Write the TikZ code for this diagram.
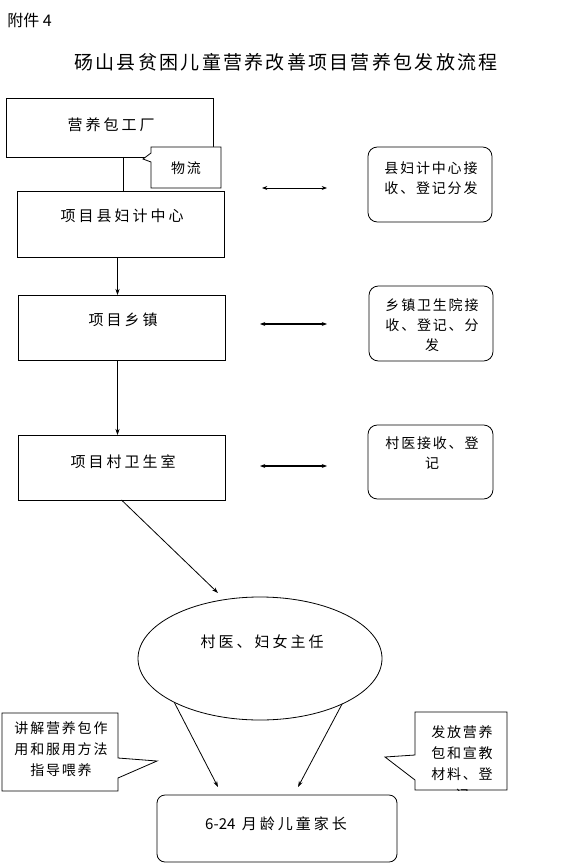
\documentclass[tikz,border=0pt]{standalone}
\usepackage{fontspec}
\setmainfont{Noto Sans CJK SC}
\newfontfamily\titlefont[LetterSpace=12]{Noto Sans CJK SC}
\newfontfamily\boxfont[LetterSpace=20]{Noto Sans CJK SC}
\newfontfamily\smallfont[LetterSpace=13]{Noto Sans CJK SC}
\newfontfamily\plainfont{Noto Sans CJK SC}
\usetikzlibrary{arrows.meta,shapes.geometric}
\begin{document}
\begin{tikzpicture}[x=0.75pt,y=-0.75pt,line width=0.6pt,
  sqbox/.style={draw,rectangle,inner sep=0pt,outer sep=0pt},
  rbox/.style={draw,rectangle,rounded corners=7pt,inner sep=0pt,outer sep=0pt},
  bigtxt/.style={inner sep=0pt,font=\fontsize{11.25pt}{14pt}\boxfont},
  smalltxt/.style={inner sep=0pt,align=center,font=\fontsize{10.5pt}{15pt}\smallfont},
  arr/.style={-{Stealth[length=4.5pt,width=3pt]}},
  darr/.style={{Stealth[length=4pt,width=3pt]}-{Stealth[length=4pt,width=3pt]}}]
\useasboundingbox (0,0) rectangle (563,863);

% header
\node[anchor=west,inner sep=0pt,font=\fontsize{12pt}{14pt}\selectfont] (att) at (7,20) {附件 4};
\node[inner sep=0pt,font=\fontsize{14.25pt}{16pt}\titlefont] (title) at (286,62) {砀山县贫困儿童营养改善项目营养包发放流程};

% left column boxes
\node[sqbox,minimum width=155.25pt,minimum height=44.25pt] (factory) at (109.5,127.5) {};
\node[bigtxt] (factoryt) at (111,125) {营养包工厂};
\node[sqbox,minimum width=155.25pt,minimum height=49.5pt] (county) at (120.5,224) {};
\node[bigtxt] (countyt) at (122,216) {项目县妇计中心};
\node[sqbox,minimum width=155.25pt,minimum height=48.75pt] (town) at (121.5,327.5) {};
\node[bigtxt] (townt) at (123,320) {项目乡镇};
\node[sqbox,minimum width=155.25pt,minimum height=48.75pt] (village) at (121.5,467.5) {};
\node[bigtxt] (villaget) at (123,462) {项目村卫生室};

% logistics callout
\draw[fill=white] (151,147) -- (221,147) -- (221,188) -- (151,188) -- (151,162) -- (143,159) -- (151,153) -- cycle;
\node[inner sep=0pt,font=\fontsize{10.5pt}{12pt}\smallfont] (wuliu) at (186,168) {物流};

% vertical connectors
\coordinate (xa) at (123,0);
\coordinate (xb) at (117.5,0);
\draw (factory.south -| xa) -- (county.north -| xa);
\draw[arr] (county.south -| xb) -- (town.north -| xb);
\draw[arr] (town.south -| xb) -- (village.north -| xb);

% ellipse
\node[draw,ellipse,minimum width=183pt,minimum height=92.25pt,inner sep=0pt,outer sep=0pt] (ell) at (260,658.5) {};
\node[bigtxt] (ellt) at (262,642) {村医、妇女主任};
\coordinate (t1) at (218,593);
\draw[arr] (village.south) -- (t1);

% bottom box
\node[draw,rectangle,rounded corners=6pt,minimum width=180pt,minimum height=50.25pt,inner sep=0pt,outer sep=0pt] (parent) at (277,828.5) {};
\node[inner sep=0pt,font=\fontsize{11.25pt}{14pt}\boxfont] (parentt) at (276,824) {{\plainfont 6-24} 月龄儿童家长};
\coordinate (t2) at (218,787);
\coordinate (t3) at (298,787);
\draw[arr] (ell.207.4) -- (t2);
\draw[arr] (ell.331.8) -- (t3);

% right column
\node[rbox,minimum width=93pt,minimum height=56.25pt] (ra) at (430,184.5) {};
\node[smalltxt] (rat) at (431,178) {县妇计中心接\\收、登记分发};
\node[rbox,minimum width=93pt,minimum height=56.25pt] (rb) at (431,323.5) {};
\node[smalltxt] (rbt) at (432,325) {乡镇卫生院接\\收、登记、分\\发};
\node[rbox,minimum width=93.75pt,minimum height=55.5pt] (rc) at (430.5,462) {};
\node[smalltxt] (rct) at (432,453.5) {村医接收、登\\记};

% double arrows
\coordinate (da1) at (262,188); \coordinate (da2) at (327,188);
\coordinate (db1) at (260,324); \coordinate (db2) at (327,324);
\coordinate (dc1) at (260,466); \coordinate (dc2) at (327,466);
\draw[darr] (da1) -- (da2);
\draw[darr,line width=1.2pt] (db1) -- (db2);
\draw[darr,line width=1.2pt] (dc1) -- (dc2);

% bottom callouts
\draw[fill=white] (2,713) -- (118,713) -- (118,758) -- (157,761) -- (118,778) -- (118,791) -- (2,791) -- cycle;
\node[smalltxt,font=\fontsize{10.5pt}{15.75pt}\smallfont] (lct) at (61,749) {讲解营养包作\\用和服用方法\\指导喂养};
\draw[fill=white] (415,712) -- (507,712) -- (507,790) -- (415,790) -- (415,780) -- (385,757) -- (415,755) -- cycle;
\begin{scope}
\clip (415,712) rectangle (507,790);
\node[smalltxt,font=\fontsize{10.5pt}{15.75pt}\smallfont] (rct2) at (462,764) {发放营养\\包和宣教\\材料、登\\记};
\end{scope}
\end{tikzpicture}
\end{document}
